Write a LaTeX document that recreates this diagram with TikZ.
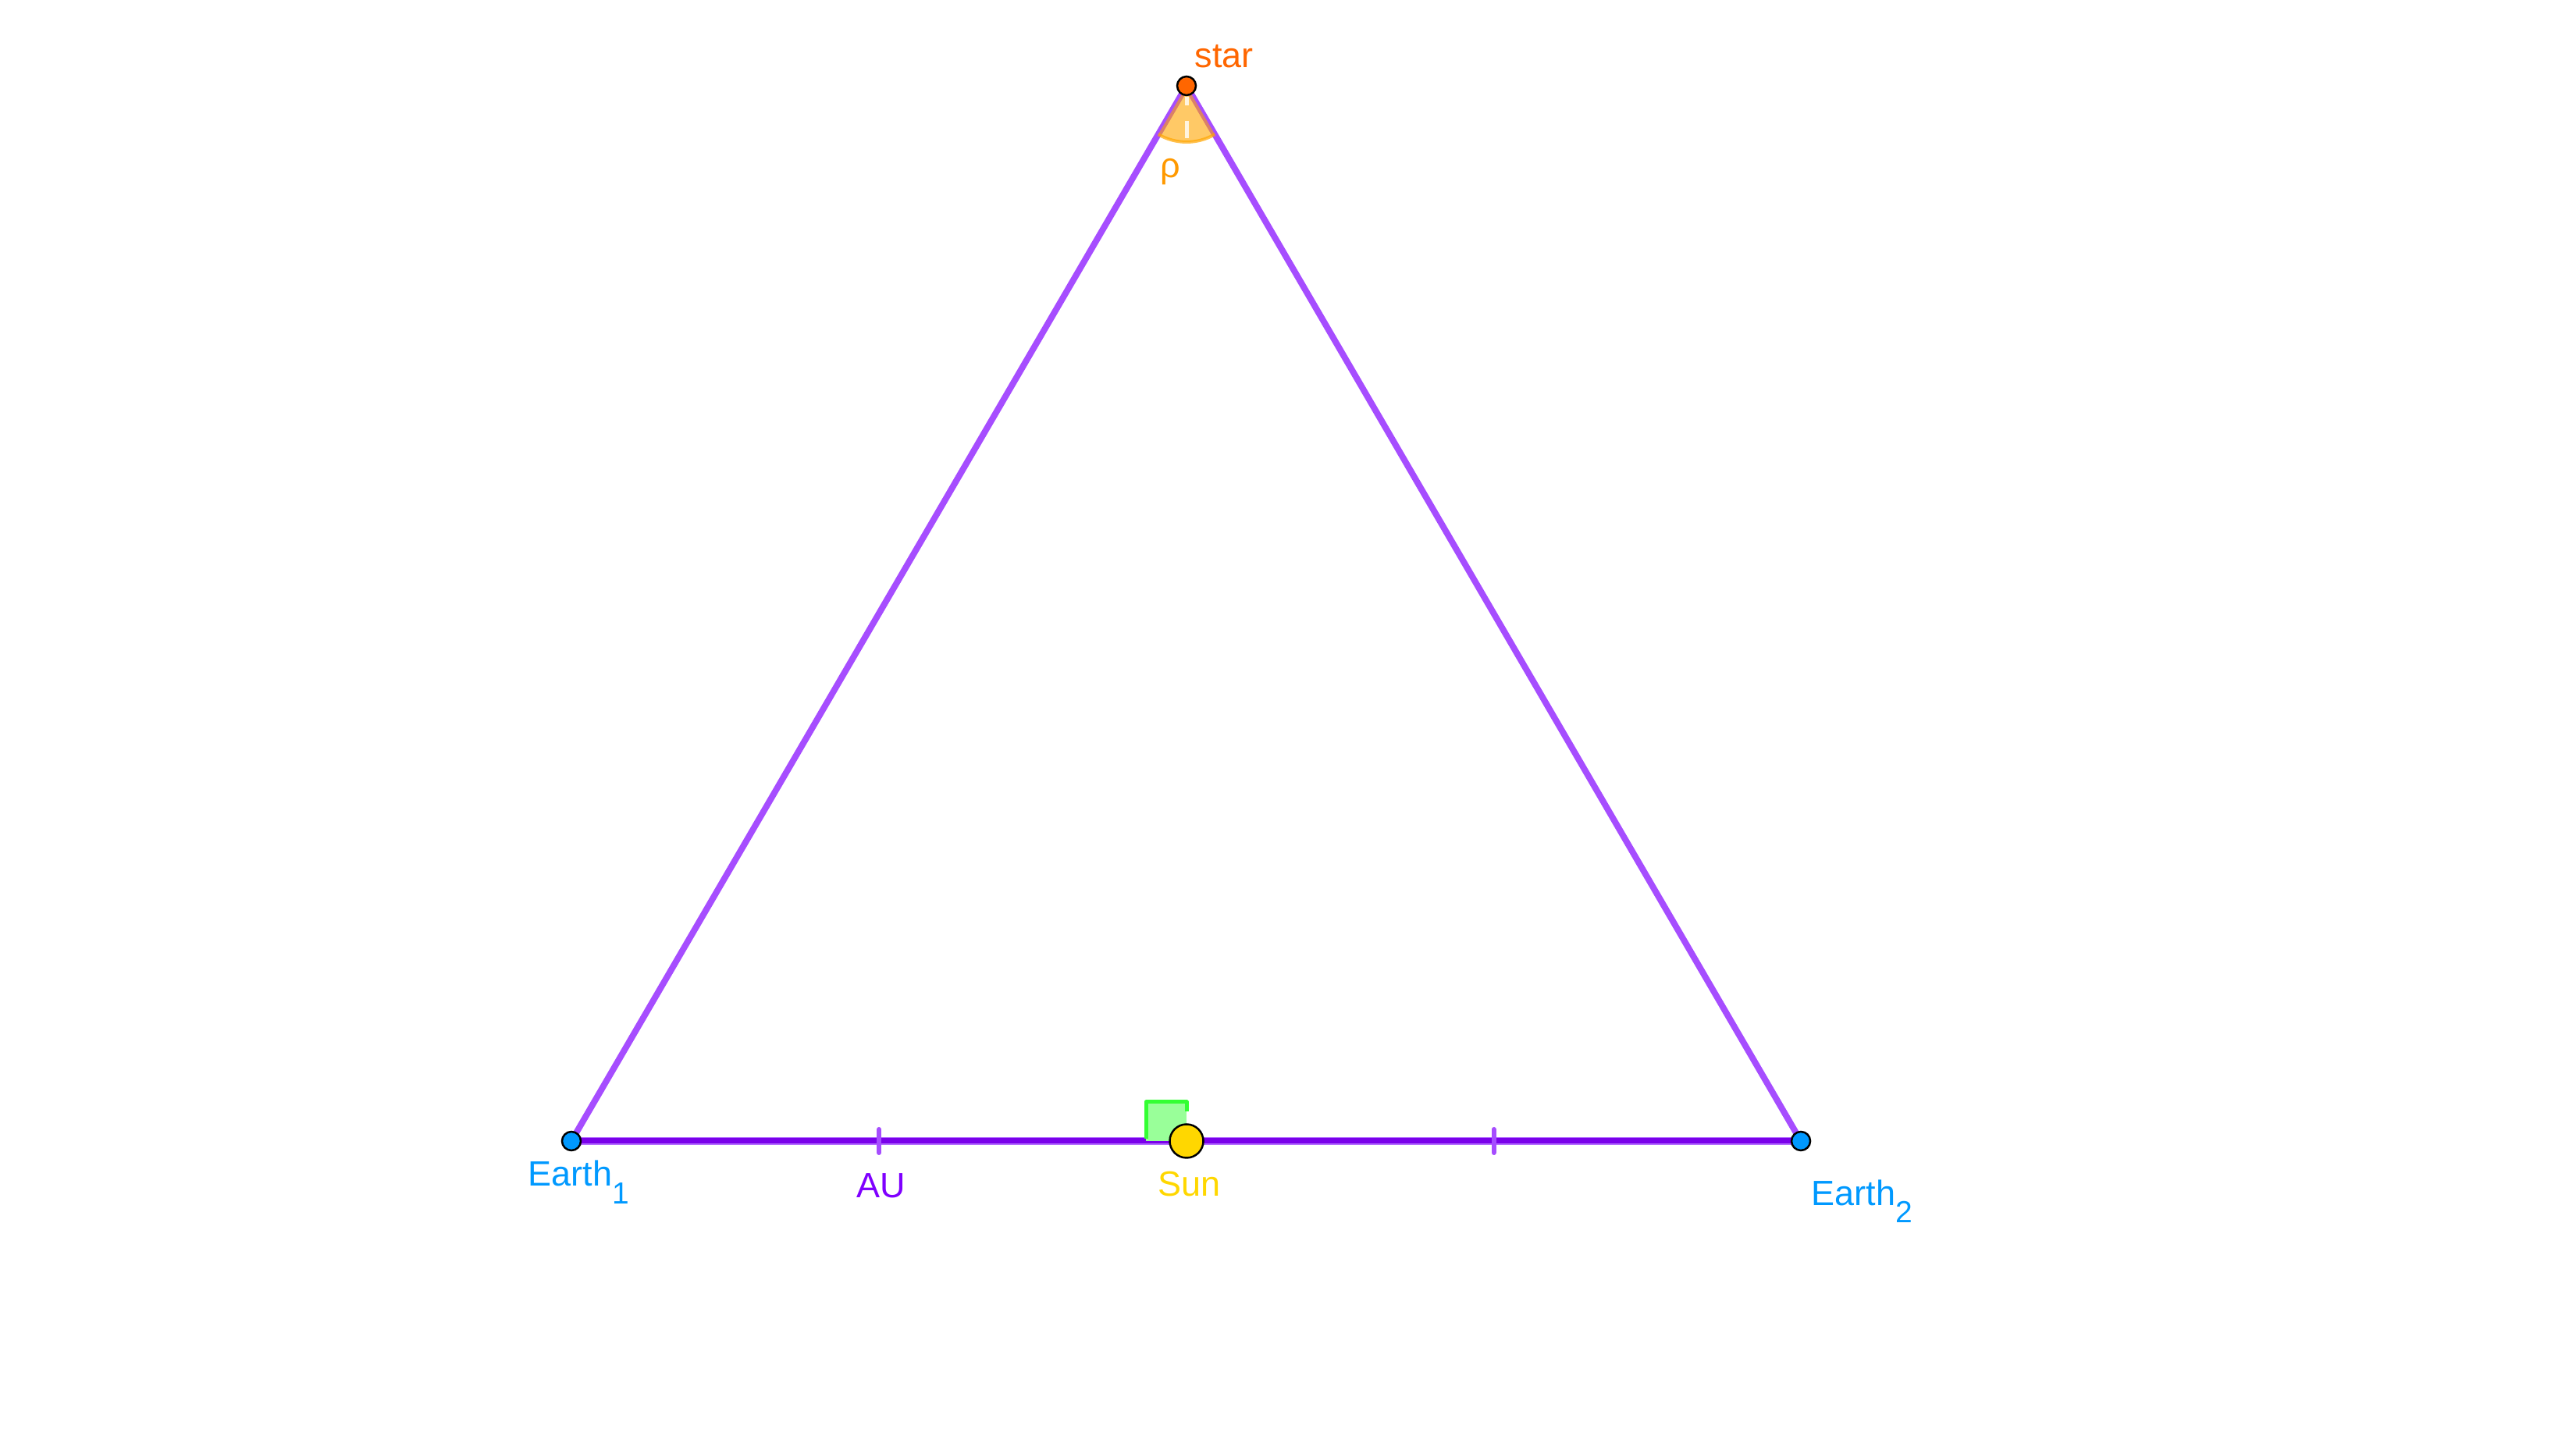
\documentclass[tikz,border=0pt]{standalone}
\usepackage{fontspec}
\setmainfont{Liberation Sans}
\usetikzlibrary{calc}
\definecolor{earthblue}{HTML}{0099FF}
\definecolor{starorange}{HTML}{FF6600}
\definecolor{sungold}{HTML}{FFD700}
\definecolor{auviolet}{HTML}{7F00FF}
\definecolor{sidepurple}{HTML}{A64DFF}
\definecolor{basedark}{HTML}{7A00EA}
\definecolor{baselight}{HTML}{B36BFF}
\definecolor{rhoorange}{HTML}{FF9900}
\definecolor{arcfill}{HTML}{FFA500}
\definecolor{rgreen}{HTML}{33FF33}
\definecolor{rgreenfill}{HTML}{99FF99}
\newcommand{\mysubfont}{\fontsize{11.1}{13}\selectfont}
\tikzset{
  lbl/.style={inner sep=0pt, font=\fontsize{12.8}{15}\selectfont},
  pt/.style={circle, draw=black, line width=0.025cm, inner sep=0pt, minimum size=#1},
  sideline/.style={draw=sidepurple, line width=0.08cm, line cap=round},
  ticks/.style={draw=sidepurple, line width=0.06cm, line cap=round}
}
\begin{document}
\begin{tikzpicture}
\useasboundingbox (0,0) rectangle (33,18.54);
\coordinate (S) at (15.20,17.44);
\coordinate (E1) at (7.32,3.92);
\coordinate (E2) at (23.07,3.92);
\coordinate (C) at (15.20,3.92);
\coordinate (T1) at (11.26,3.92);
\coordinate (T2) at (19.135,3.92);
% triangle sides
\draw[sideline] (E1) -- (S) -- (E2);
% base line
\draw[draw=baselight, line width=0.10cm] (E1) -- (E2);
\draw[draw=basedark, line width=0.07cm] (E1) -- (E2);
% equal-segment ticks
\draw[ticks] ([yshift=-0.15cm]T1) -- ([yshift=0.15cm]T1);
\draw[ticks] ([yshift=-0.15cm]T2) -- ([yshift=0.15cm]T2);
% right-angle mark at the Sun
\fill[rgreenfill] (14.68,3.92) rectangle (15.20,4.42);
\draw[draw=rgreen, line width=0.05cm, line join=round] (14.68,3.95) -- (14.68,4.42) -- (15.20,4.42) -- (15.20,4.30);
% parallax angle at the star
\fill[arcfill, fill opacity=0.6] (S) -- ++(239.8:0.72) arc[start angle=239.8, end angle=300.2, radius=0.72] -- cycle;
\draw[draw=arcfill, draw opacity=0.7, line width=0.04cm] ($(S)+(239.8:0.72)$) arc[start angle=239.8, end angle=300.2, radius=0.72];
\draw[white, opacity=0.8, line width=0.05cm] ([yshift=-0.14cm]S) -- ([yshift=-0.25cm]S);
\draw[white, opacity=0.8, line width=0.05cm] ([yshift=-0.45cm]S) -- ([yshift=-0.67cm]S);
% points
\node[pt=0.24cm, fill=starorange] (star) at (S) {};
\node[pt=0.24cm, fill=earthblue] (earth1) at (E1) {};
\node[pt=0.24cm, fill=earthblue] (earth2) at (E2) {};
\node[pt=0.43cm, fill=sungold] (sun) at (C) {};
% labels
\node[lbl, anchor=base west, text=starorange] (starlbl) at (15.30,17.67) {star};
\node[lbl, anchor=base, text=rhoorange] (rholbl) at (14.99,16.26) {ρ};
\node[lbl, anchor=base west, text=earthblue] (e1lbl) at (6.76,3.34) {Earth\raisebox{-0.23cm}{\mysubfont 1}};
\node[lbl, anchor=base west, text=earthblue] (e2lbl) at (23.20,3.09) {Earth\raisebox{-0.22cm}{\mysubfont 2}};
\node[lbl, anchor=base, text=auviolet] (aulbl) at (11.29,3.19) {AU};
\node[lbl, anchor=base, text=sungold] (sunlbl) at (15.23,3.21) {Sun};
\end{tikzpicture}
\end{document}
